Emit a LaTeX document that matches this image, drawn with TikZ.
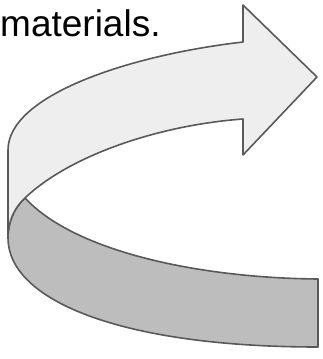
\documentclass[tikz,border=0pt]{standalone}
\usepackage{fontspec}
\setmainfont{Liberation Sans}
\definecolor{lightband}{HTML}{EEEEEE}
\definecolor{darkband}{HTML}{BDBDBD}
\definecolor{edge}{HTML}{595959}
\begin{document}
\begin{tikzpicture}[x=1pt,y=-1pt,
  band/.style={draw=edge,line width=1.6pt,line join=round}]
\useasboundingbox (0,0) rectangle (322,359);
% text
\node[anchor=base west,inner sep=0pt,font=\fontsize{37}{42}\selectfont] (txt) at (0,36) {materials.};
% key points
\coordinate (ht) at (243,5);
\coordinate (tip) at (317,77);
\coordinate (hb) at (243,155);
\coordinate (so) at (243,42);
\coordinate (si) at (243,119);
\coordinate (lt) at (8,150);
\coordinate (lb) at (8,238);
\coordinate (ij) at (25,198);
\coordinate (rt) at (318,279);
\coordinate (rb) at (318,347);
% dark front part
\draw[band,fill=darkband] (ij) .. controls (75,252) and (200,278) .. (rt)
  -- (rb) .. controls (120,347) and (8,300) .. (lb)
  .. controls (8,222) and (14,208) .. (ij) -- cycle;
% light back part with arrow head
\draw[band,fill=lightband] (so) .. controls (130,55) and (8,95) .. (lt)
  -- (lb) .. controls (8,222) and (14,208) .. (ij)
  .. controls (70,155) and (160,125) .. (si)
  -- (hb) -- (tip) -- (ht) -- cycle;
\end{tikzpicture}
\end{document}
